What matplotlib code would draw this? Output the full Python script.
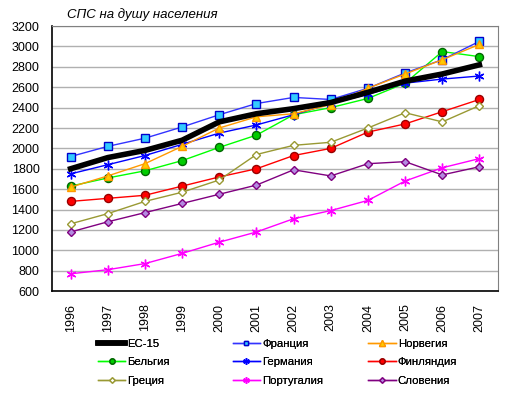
import matplotlib
matplotlib.use("Agg")
import matplotlib.pyplot as plt

plt.rcParams["font.family"] = ["Liberation Sans", "DejaVu Sans"]

years = ["1996", "1997", "1998", "1999", "2000", "2001",
         "2002", "2003", "2004", "2005", "2006", "2007"]

eu15     = [1800, 1910, 1980, 2080, 2260, 2340, 2390, 2450, 2550, 2660, 2730, 2820]
france   = [1920, 2020, 2100, 2210, 2330, 2440, 2500, 2480, 2590, 2740, 2870, 3050]
norway   = [1620, 1730, 1850, 2020, 2200, 2310, 2340, 2430, 2590, 2730, 2870, 3020]
belgium  = [1630, 1710, 1780, 1880, 2010, 2130, 2330, 2400, 2490, 2640, 2950, 2900]
germany  = [1750, 1840, 1930, 2040, 2150, 2230, 2330, 2440, 2530, 2640, 2680, 2710]
finland  = [1480, 1510, 1540, 1630, 1720, 1800, 1930, 2000, 2160, 2240, 2360, 2480]
greece   = [1260, 1360, 1480, 1570, 1690, 1940, 2030, 2060, 2200, 2350, 2260, 2420]
portugal = [770, 810, 870, 970, 1080, 1180, 1310, 1390, 1490, 1680, 1810, 1900]
slovenia = [1180, 1280, 1370, 1460, 1550, 1640, 1790, 1730, 1850, 1870, 1740, 1820]

ASTER = (6, 2, 0)

fig = plt.figure(figsize=(5.15, 3.95), dpi=100)
ax = fig.add_axes([0.101, 0.263, 0.866, 0.671])
x = range(len(years))

h = {}
h["ЕС-15"] = ax.plot(x, eu15, color="black", lw=4, zorder=5)[0]
h["Франция"] = ax.plot(x, france, color="#3333FF", lw=1, marker="s", ms=5.5,
                       mfc="#33CCFF", mec="#0000CC", zorder=4)[0]
h["Норвегия"] = ax.plot(x, norway, color="#FF9900", lw=1, marker="^", ms=6,
                        mfc="#FFCC00", mec="#FF9900", zorder=4)[0]
h["Бельгия"] = ax.plot(x, belgium, color="#00FF00", lw=1, marker="o", ms=5.8,
                       mfc="#00CC00", mec="#006600", zorder=3)[0]
h["Германия"] = ax.plot(x, germany, color="#0000FF", lw=1, marker=ASTER, ms=7,
                        mec="#0000FF", mew=1, zorder=3)[0]
h["Финляндия"] = ax.plot(x, finland, color="#FF0000", lw=1, marker="o", ms=5.8,
                         mfc="#FF0000", mec="#990000", zorder=3)[0]
h["Греция"] = ax.plot(x, greece, color="#999933", lw=1, marker="D", ms=4.2,
                      mfc="white", mec="#999933", zorder=3)[0]
h["Португалия"] = ax.plot(x, portugal, color="#FF00FF", lw=1, marker=ASTER, ms=7,
                          mec="#FF00FF", mew=1, zorder=3)[0]
h["Словения"] = ax.plot(x, slovenia, color="#800080", lw=1, marker="D", ms=4.2,
                        mfc="#B38BE0", mec="#800080", zorder=3)[0]

ax.set_xlim(-0.5, len(years) - 0.5)
ax.set_ylim(600, 3200)
ax.set_yticks(range(600, 3201, 200))
ax.set_xticks(list(x))
ax.set_xticklabels(years, rotation=90)
ax.tick_params(axis="both", length=0, labelsize=9, colors="black")
ax.tick_params(axis="y", pad=9)
ax.tick_params(axis="x", pad=9)
ax.yaxis.grid(True, color="#B0B0B0", lw=1)
ax.set_axisbelow(True)
for s in ["top", "right"]:
    ax.spines[s].set_color("#808080")
for s in ["left", "bottom"]:
    ax.spines[s].set_color("black")
    ax.spines[s].set_linewidth(1.2)

fig.text(0.13, 0.962, "СПС на душу населения", style="italic", fontsize=9.5,
         va="center", ha="left")

# legend: three columns at fixed positions, like Excel
columns = [["ЕС-15", "Бельгия", "Греция"],
           ["Франция", "Германия", "Португалия"],
           ["Норвегия", "Финляндия", "Словения"]]
col_x = [0.190, 0.452, 0.715]
for names, cx in zip(columns, col_x):
    leg = fig.legend([h[k] for k in names], names, loc="upper left",
                     bbox_to_anchor=(cx, 0.143), frameon=False, fontsize=8.2,
                     markerscale=0.65, handlelength=2.4, handletextpad=0.2,
                     labelspacing=0.78, borderpad=0, borderaxespad=0)
    fig.add_artist(leg)

fig.savefig("out.png", dpi=100)
